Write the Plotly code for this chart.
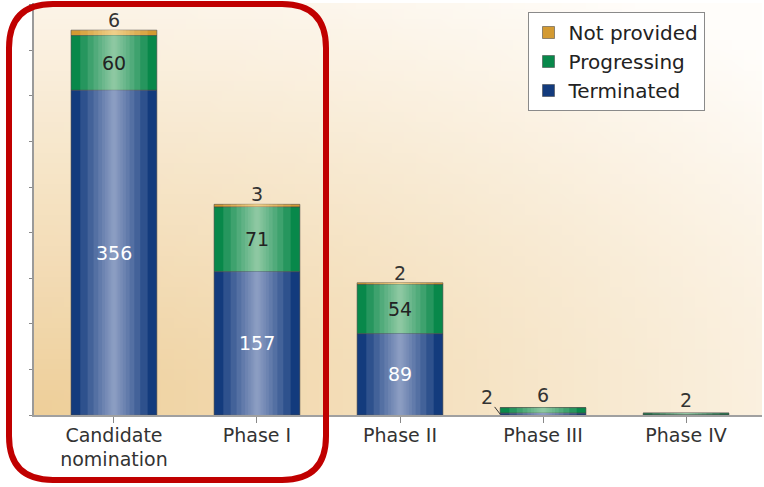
import base64
import struct
import zlib
import plotly.graph_objects as go

# ---------------- data ----------------
categories = ["Candidate<br>nomination", "Phase I", "Phase II", "Phase III", "Phase IV"]
terminated = [356, 157, 89, 2, 0]
progressing = [60, 71, 54, 6, 2]
not_provided = [6, 3, 2, 0, 0]

# ---------------- style ----------------
FONT = "DejaVu Sans"
TXT = "#333333"
W, H = 764, 487
ML, MR, MT, MB = 34, 2, 3, 72
PX_PER_UNIT = 0.912
BAR_W = 0.6

xs = list(range(len(categories)))
plot_h = H - MT - MB
plot_w = W - ML - MR
y_max = plot_h / PX_PER_UNIT
x_lo, x_hi = -0.559, 4.531


# ---- background gradient image (decoration only) ----
def png_uri(w, h, fn):
    rows = []
    for j in range(h):
        row = bytearray([0])
        for i in range(w):
            row.extend(fn(i / (w - 1), 1 - j / (h - 1)))
        rows.append(bytes(row))
    raw = b"".join(rows)

    def chunk(t, d):
        return struct.pack(">I", len(d)) + t + d + struct.pack(">I", zlib.crc32(t + d) & 0xFFFFFFFF)

    png = (b"\x89PNG\r\n\x1a\n" + chunk(b"IHDR", struct.pack(">IIBBBBB", w, h, 8, 2, 0, 0, 0))
           + chunk(b"IDAT", zlib.compress(raw)) + chunk(b"IEND", b""))
    return "data:image/png;base64," + base64.b64encode(png).decode()


PEACH = (238, 207, 154)
WHITE = (255, 253, 250)


def bg(u, v):
    t = 1 - ((u / 1.4) ** 2 + (v / 1.25) ** 2) ** 0.5
    t = max(0.0, min(1.0, t))
    return bytes(int(round(WHITE[k] + (PEACH[k] - WHITE[k]) * t)) for k in range(3))


bg_uri = png_uri(60, 40, bg)

# ---------------- figure ----------------
fig = go.Figure()

base_np = [t + p for t, p in zip(terminated, progressing)]
series = [
    ("Not provided", not_provided, base_np, "#d39a32", "#f6d794"),
    ("Progressing", progressing, terminated, "#08884a", "#a2d3b0"),
    ("Terminated", terminated, [0] * len(xs), "#133b7d", "#9ba8cf"),
]

# cylinder shading: stacked translucent highlight bands of decreasing width
K = 10
A = 0.2
PEAK = 0.93
band_frac = [max(0.02, 1 - (1 - (1 - A) ** i) / PEAK) for i in range(1, K + 1)]

for name, vals, base, edge, center in series:
    fig.add_trace(go.Bar(
        x=xs, y=vals, base=base, width=BAR_W, name=name,
        marker=dict(color=edge, line=dict(color="rgba(70,70,70,0.55)", width=1)),
        hoverinfo="name+y",
    ))
    for f in band_frac:
        fig.add_trace(go.Bar(
            x=xs, y=vals, base=base, width=BAR_W * f,
            marker=dict(color=center, opacity=A, line=dict(width=0)),
            showlegend=False, hoverinfo="skip",
        ))

# ---------------- value labels ----------------
NUM = 19
ann = []
for i in xs:
    t, p, n = terminated[i], progressing[i], not_provided[i]
    total = t + p + n
    if t >= 20:
        ann.append(dict(x=i, y=t / 2, text=str(t), showarrow=False,
                        font=dict(family=FONT, size=NUM, color="white")))
    elif t > 0:
        ann.append(dict(x=i - BAR_W / 2, y=t / 2, text=str(t), showarrow=True,
                        arrowhead=0, arrowwidth=1, arrowcolor=TXT, ax=-13, ay=-17,
                        standoff=0, font=dict(family=FONT, size=NUM, color=TXT)))
    if p >= 20:
        ann.append(dict(x=i, y=t + p / 2, text=str(p), showarrow=False,
                        font=dict(family=FONT, size=NUM, color="#222222")))
    elif p > 0:
        ann.append(dict(x=i, y=total, text=str(p), showarrow=False, yanchor="bottom",
                        yshift=0, font=dict(family=FONT, size=NUM, color=TXT)))
    if n > 0:
        ann.append(dict(x=i, y=total, text=str(n), showarrow=False, yanchor="bottom",
                        yshift=-3, font=dict(family=FONT, size=NUM, color=TXT)))


# ---------------- red rounded frame (paper coords) ----------------
def px_x(p):
    return (p - ML) / plot_w


def px_y(p):
    return (H - MB - p) / plot_h


L, R, T, B = px_x(9), px_x(326), px_y(4), px_y(480)
rx, ry = 44 / plot_w, 44 / plot_h
path = (f"M {L+rx} {T} L {R-rx} {T} Q {R} {T} {R} {T-ry} L {R} {B+ry} Q {R} {B} {R-rx} {B} "
        f"L {L+rx} {B} Q {L} {B} {L} {B+ry} L {L} {T-ry} Q {L} {T} {L+rx} {T} Z")

fig.update_layout(
    width=W, height=H, autosize=False,
    margin=dict(l=ML, r=MR, t=MT, b=MB),
    barmode="overlay",
    paper_bgcolor="white",
    plot_bgcolor="rgba(0,0,0,0)",
    font=dict(family=FONT, color=TXT),
    images=[dict(source=bg_uri, xref="paper", yref="paper", x=0, y=1, sizex=1, sizey=1,
                 xanchor="left", yanchor="top", sizing="stretch", layer="below")],
    legend=dict(x=px_x(616), y=px_y(12), xanchor="center", yanchor="top",
                bgcolor="white", bordercolor="#8a8a8a", borderwidth=1,
                font=dict(family=FONT, size=20, color="#222222"), traceorder="normal"),
    annotations=ann,
    shapes=[dict(type="path", xref="paper", yref="paper", path=path,
                 line=dict(color="#c00000", width=6), layer="above")],
    showlegend=True,
)
fig.update_xaxes(range=[x_lo, x_hi], tickvals=xs, ticktext=categories,
                 ticks="outside", ticklen=6, tickcolor="#888888",
                 showline=True, linecolor="#a0a0a0", linewidth=1.5,
                 showgrid=False, zeroline=False, ticklabelstandoff=-4,
                 tickfont=dict(family=FONT, size=19, color=TXT))
fig.update_yaxes(range=[0, y_max], dtick=50, tick0=0, ticks="outside", ticklen=3,
                 tickcolor="#888888", showticklabels=False,
                 showline=True, linecolor="#9a9a9a", linewidth=1.5,
                 showgrid=False, zeroline=False)

fig.write_html("out.html", config={"displayModeBar": False},
               post_script="document.body.style.margin='0px';")
